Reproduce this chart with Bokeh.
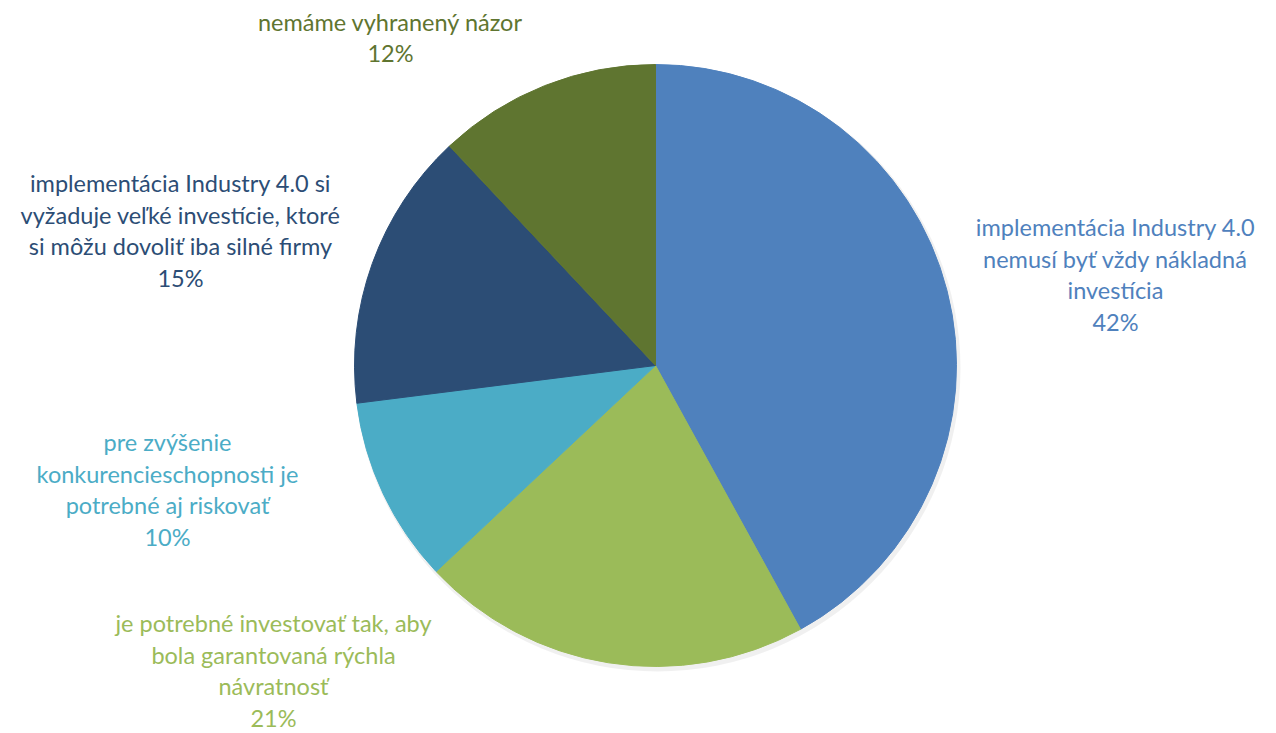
import math
from bokeh.plotting import figure
from bokeh.models import Range1d, ColumnDataSource
from bokeh.core.properties import value
from bokeh.embed import file_html
from bokeh.resources import INLINE

# ---- data ----
categories = [
    "implementácia Industry 4.0\nnemusí byť vždy nákladná\ninvestícia",
    "je potrebné investovať tak, aby\nbola garantovaná rýchla\nnávratnosť",
    "pre zvýšenie\nkonkurencieschopnosti je\npotrebné aj riskovať",
    "implementácia Industry 4.0 si\nvyžaduje veľké investície, ktoré\nsi môžu dovoliť iba silné firmy",
    "nemáme vyhranený názor",
]
shares = [42, 21, 10, 15, 12]
colors = ["#4F81BD", "#9BBB59", "#4BACC6", "#2C4D75", "#5F7530"]

# ---- layout ----
W, H = 1276, 733
cx, cy, R = 655, 368, 301
label_x = [1115, 273, 167, 180, 390]
label_y = [459, 63, 244, 503, 696]

total = sum(shares)
starts, ends = [], []
cum = 0
for s in shares:
    starts.append(math.pi / 2 - 2 * math.pi * cum / total)
    cum += s
    ends.append(math.pi / 2 - 2 * math.pi * cum / total)

src = ColumnDataSource(dict(start=starts, end=ends, color=colors,
                            x=[cx] * len(shares), y=[cy] * len(shares)))

p = figure(width=W, height=H, x_range=Range1d(0, W), y_range=Range1d(0, H),
           output_backend="svg", toolbar_location=None, min_border=0)
p.axis.visible = False
p.grid.visible = False
p.outline_line_color = None

# soft shadow
p.circle(x=[cx + 2], y=[cy - 3], radius=R + 2, fill_color="#000000",
         fill_alpha=0.06, line_color=None)

p.wedge(x="x", y="y", radius=R, start_angle="start", end_angle="end",
        direction="clock", fill_color="color", line_color="color", line_width=1,
        source=src)

labels = [f"{c}\n{s}%" for c, s in zip(categories, shares)]
lsrc = ColumnDataSource(dict(x=label_x, y=label_y, text=labels, color=colors))
p.text(x="x", y="y", text="text", text_color="color", source=lsrc,
       text_align="center", text_baseline="middle",
       text_font=value("Lato"), text_font_size="23.5px", text_line_height=1.12)

open("out.html", "w").write(file_html(p, INLINE))
